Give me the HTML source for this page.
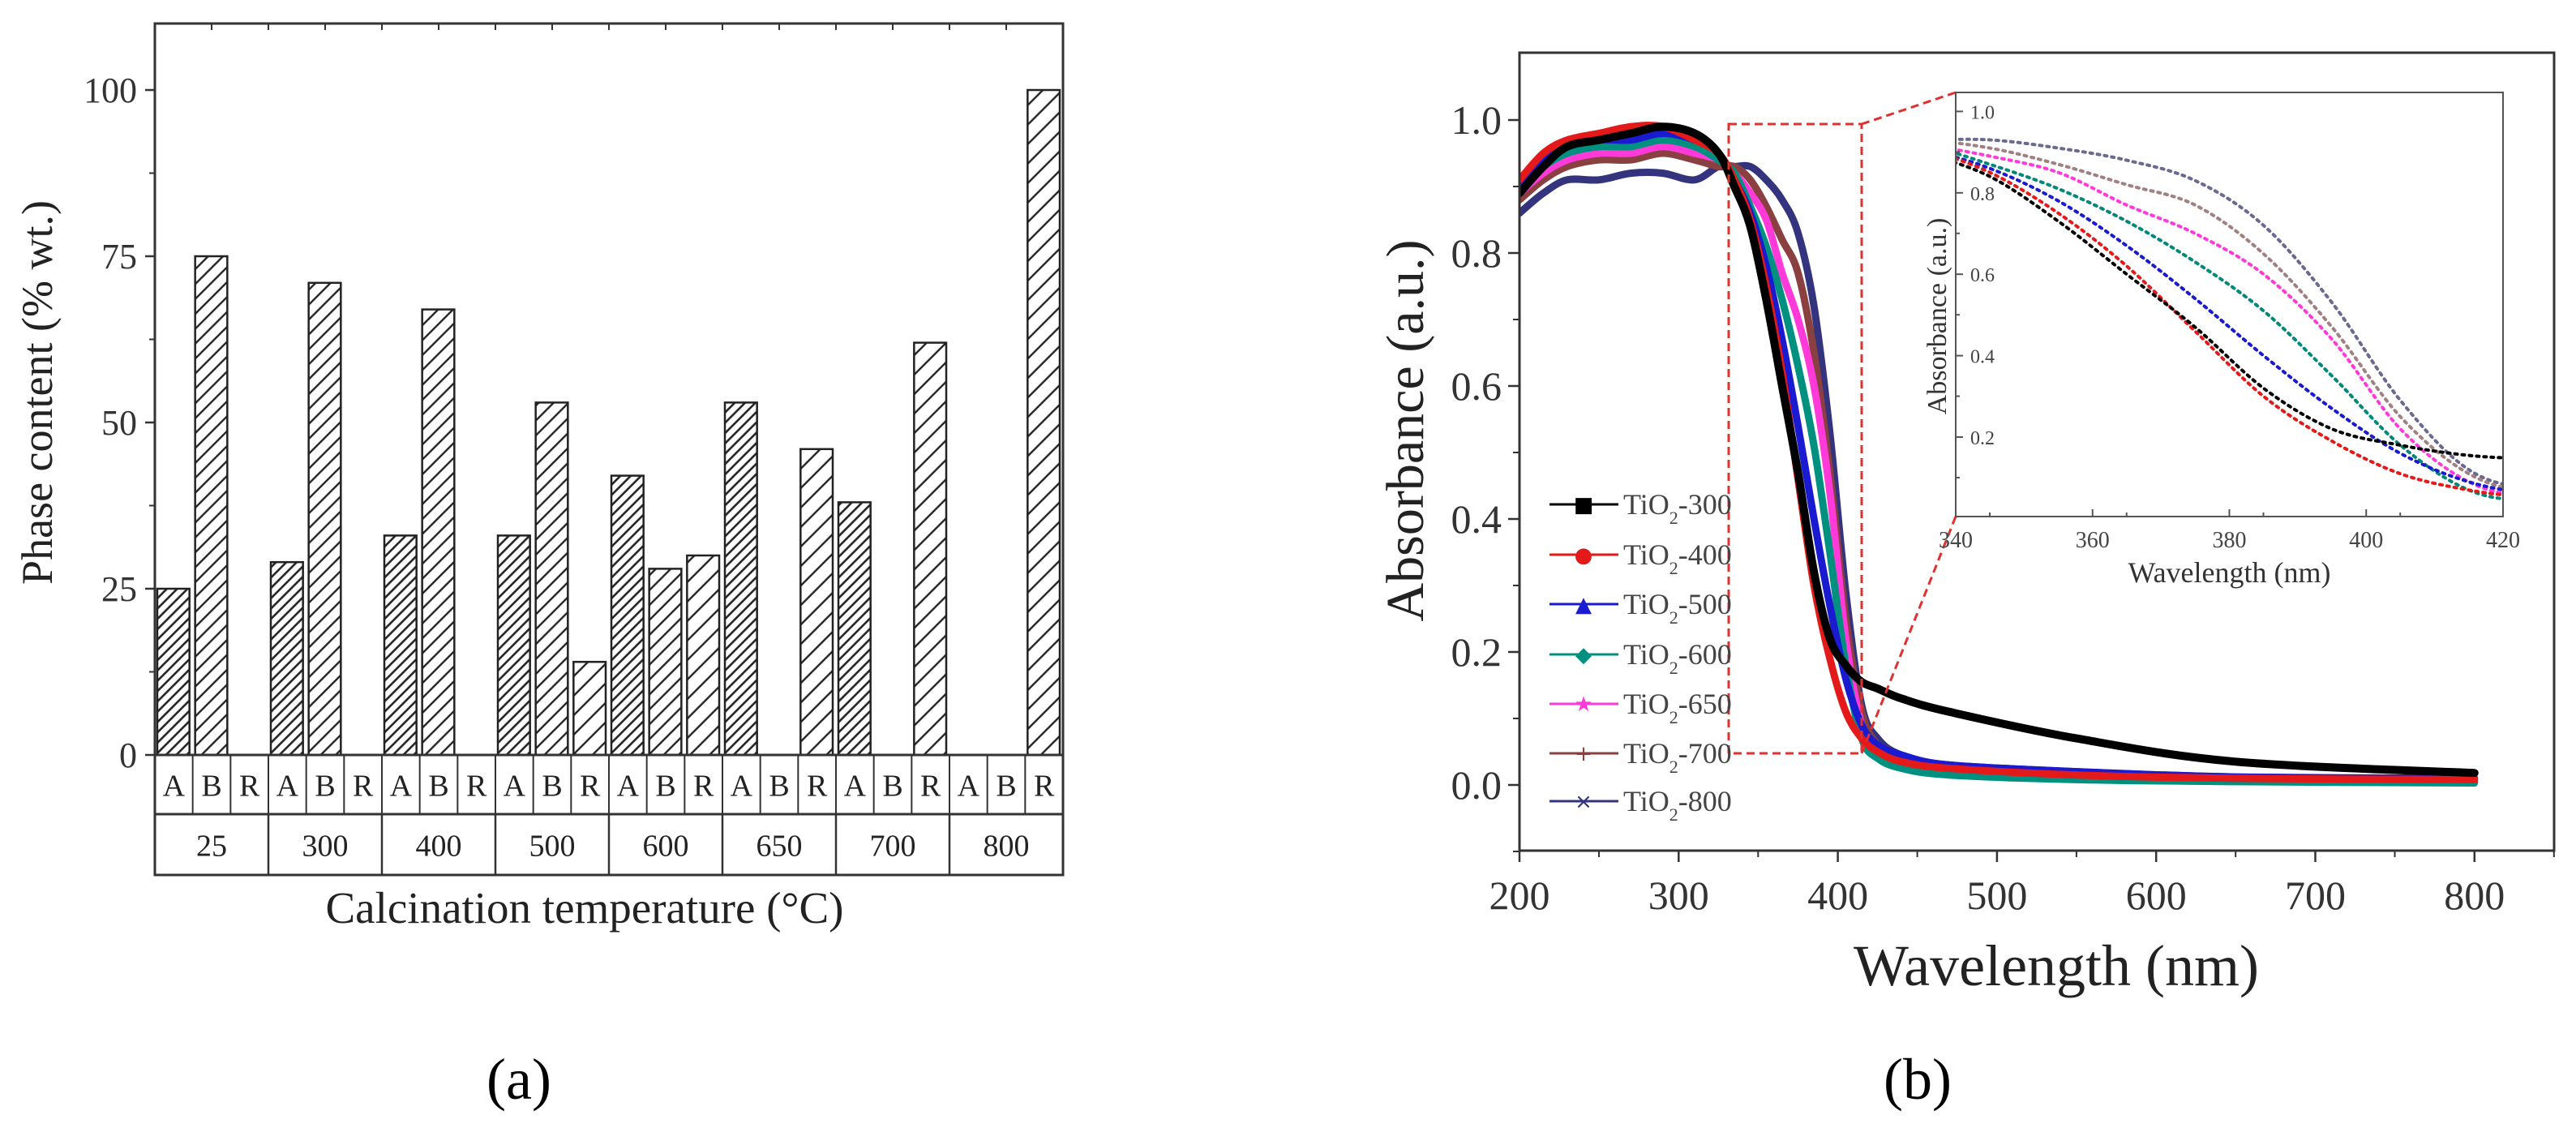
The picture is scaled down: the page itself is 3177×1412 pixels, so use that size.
<!DOCTYPE html>
<html><head><meta charset="utf-8"><style>
html,body{margin:0;padding:0;background:#fff;}
svg{display:block;font-family:"Liberation Serif",serif;}
</style></head><body>
<svg id="fig" width="3177" height="1412" viewBox="0 0 3177 1412" xmlns="http://www.w3.org/2000/svg">
<defs>
<pattern id="hA" width="9" height="9" patternUnits="userSpaceOnUse" patternTransform="rotate(45)"><line x1="2" y1="0" x2="2" y2="9" stroke="#222" stroke-width="2.6"/></pattern>
<pattern id="hB" width="13" height="13" patternUnits="userSpaceOnUse" patternTransform="rotate(45)"><line x1="2" y1="0" x2="2" y2="13" stroke="#222" stroke-width="2.4"/></pattern>
<pattern id="hR" width="17" height="17" patternUnits="userSpaceOnUse" patternTransform="rotate(45)"><line x1="2" y1="0" x2="2" y2="17" stroke="#222" stroke-width="2.4"/></pattern>
<clipPath id="mainClip"><rect x="1874" y="65" width="1276" height="984"/></clipPath>
<clipPath id="insClip"><rect x="2412" y="114" width="675" height="523"/></clipPath>
</defs>
<g id="panelA"></g>
<g id="panelB"></g>
<text x="640" y="1355" font-size="72" text-anchor="middle">(a)</text>
<text x="2365" y="1355" font-size="72" text-anchor="middle">(b)</text>
</svg>
<script>
// ---------- Panel (a) data ----------
const temps = ["25","300","400","500","600","650","700","800"];
const phases = ["A","B","R"];
const anatase = [25,29,33,33,42,53,38,0];
const brookite = [75,71,67,53,28,0,0,0];
const rutile = [0,0,0,14,30,46,62,100];
const yTicksA = [0,25,50,75,100];

// ---------- Panel (b) data ----------
const wl = [200,215,230,250,270,290,310,325,335,345,355,365,375,385,395,405,415,425,440,470,550,650,800];
const s300 = [0.89,0.93,0.96,0.97,0.98,0.99,0.98,0.95,0.90,0.84,0.73,0.60,0.47,0.32,0.22,0.18,0.155,0.145,0.13,0.11,0.07,0.035,0.018];
const s400 = [0.91,0.95,0.97,0.98,0.99,0.99,0.97,0.95,0.91,0.85,0.75,0.62,0.46,0.30,0.19,0.11,0.07,0.05,0.035,0.025,0.015,0.01,0.008];
const s500 = [0.90,0.94,0.96,0.97,0.97,0.98,0.97,0.95,0.91,0.86,0.78,0.67,0.54,0.40,0.27,0.16,0.09,0.06,0.045,0.03,0.02,0.012,0.01];
const s600 = [0.90,0.93,0.95,0.96,0.96,0.97,0.96,0.94,0.92,0.87,0.81,0.73,0.63,0.51,0.35,0.18,0.07,0.04,0.025,0.015,0.008,0.005,0.003];
const s650 = [0.89,0.92,0.94,0.95,0.95,0.96,0.95,0.94,0.92,0.89,0.85,0.77,0.70,0.60,0.44,0.22,0.09,0.05,0.03,0.02,0.012,0.008,0.005];
const s700 = [0.88,0.91,0.93,0.94,0.94,0.95,0.94,0.93,0.93,0.91,0.87,0.82,0.77,0.65,0.47,0.25,0.11,0.06,0.035,0.02,0.012,0.008,0.005];
const s800 = [0.86,0.89,0.91,0.91,0.92,0.92,0.91,0.93,0.93,0.93,0.91,0.88,0.83,0.72,0.53,0.29,0.12,0.07,0.045,0.03,0.02,0.012,0.008];
const seriesNames = ["TiO2-300","TiO2-400","TiO2-500","TiO2-600","TiO2-650","TiO2-700","TiO2-800"];
const xTicksB = [200,300,400,500,600,700,800];
const yTicksB = [0.0,0.2,0.4,0.6,0.8,1.0];
const xTicksIns = [340,360,380,400,420];
const yTicksIns = [0.2,0.4,0.6,0.8,1.0];

const NS = "http://www.w3.org/2000/svg";
function mk(parent, tag, attrs, txt){
  const e = document.createElementNS(NS, tag);
  for (const k in attrs) e.setAttribute(k, attrs[k]);
  if (txt !== undefined) e.textContent = txt;
  parent.appendChild(e);
  return e;
}

// ===== Panel A =====
const A = document.getElementById('panelA');
const aL=191, aR=1311, aT=29, aY0=931, aY100=111, aRow=1004, aB=1079;
const ya = v => aY0 + (aY100-aY0)*v/100;
const gW = (aR-aL)/temps.length, sW = gW/3;
const vals = [anatase, brookite, rutile];
const pats = ["url(#hA)","url(#hB)","url(#hR)"];
// bars
for (let g=0; g<temps.length; g++){
  for (let p=0;p<3;p++){
    const v = vals[p][g];
    if (v<=0) continue;
    const x = aL + g*gW + p*sW + 3;
    const r = mk(A,'rect',{x:x,y:ya(v),width:sW-7,height:aY0-ya(v),fill:"#fff",stroke:"none"});
    
    
    const r2 = mk(A,'rect',{x:x,y:ya(v),width:sW-7,height:aY0-ya(v),fill:pats[p],stroke:"#222","stroke-width":2.5});
    
    
  }
}
// frame
const fr = mk(A,'rect',{x:aL,y:aT,width:aR-aL,height:aB-aT,fill:"none",stroke:"#333","stroke-width":3});


mk(A,'line',{x1:aL,x2:aR,y1:aY0,y2:aY0,stroke:"#333","stroke-width":3});
mk(A,'line',{x1:aL,x2:aR,y1:aRow,y2:aRow,stroke:"#333","stroke-width":3});
// top minor ticks
for (let i=0;i<=temps.length*2;i++){
  const x = aL + i*gW/2;
  mk(A,'line',{x1:x,x2:x,y1:aT,y2:aT+8,stroke:"#333","stroke-width":2});
}
// y ticks
for (let i=0;i<yTicksA.length;i++){
  const y = ya(yTicksA[i]);
  mk(A,'line',{x1:aL-12,x2:aL,y1:y,y2:y,stroke:"#333","stroke-width":2.5});
  const t = mk(A,'text',{x:aL-22,y:y+15,"font-size":44,"text-anchor":"end",fill:"#333"}, String(yTicksA[i]));
  
  
  if (i<yTicksA.length-1){
    const ym = ya(yTicksA[i]+12.5);
    mk(A,'line',{x1:aL-7,x2:aL,y1:ym,y2:ym,stroke:"#333","stroke-width":2});
  }
}
// table
for (let g=0; g<temps.length; g++){
  for (let p=0;p<3;p++){
    const x = aL + g*gW + p*sW;
    if (g+p>0) mk(A,'line',{x1:x,x2:x,y1:aY0,y2:aRow,stroke:"#333","stroke-width":2});
    const t = mk(A,'text',{x:x+sW/2,y:(aY0+aRow)/2+14,"font-size":38,"text-anchor":"middle",fill:"#222"}, phases[p]);
    
    
  }
  const gx = aL + g*gW;
  if (g>0) mk(A,'line',{x1:gx,x2:gx,y1:aRow,y2:aB,stroke:"#333","stroke-width":2.5});
  const t = mk(A,'text',{x:gx+gW/2,y:(aRow+aB)/2+14,"font-size":38,"text-anchor":"middle",fill:"#222"}, temps[g]);
  
  
}
const yta = mk(A,'text',{x:0,y:0,"font-size":54,"text-anchor":"middle",fill:"#222",transform:"translate(64,484) rotate(-90)"}, "Phase content (% wt.)");


const xta = mk(A,'text',{x:(aL+aR)/2-30,y:1138,"font-size":55,"text-anchor":"middle",fill:"#222"}, "Calcination temperature (°C)");



// ===== Panel B =====
const B = document.getElementById('panelB');
const bL=1874, bR=3150, bT=65, bB=1049;
const xb = v => 1874 + (v-200)*1.963;
const yb = v => 968 - v*820;
const iL=2412, iR=3087, iT=114, iB=637;
const xi = v => iL + (v-340)*(iR-iL)/80;
const yi = v => 539 - (v-0.2)*502;
const colors = ["#000000","#e41a1a","#1a1ad0","#009080","#ff3ad8","#8a4040","#34347e"];
const insColors = ["#000000","#e41a1a","#1a1ad0","#008878","#ff3ad8","#a08080","#6a6a90"];
const all = [s300,s400,s500,s600,s650,s700,s800];

function smoothPath(xs, ys){
  let d = "M"+xs[0].toFixed(1)+","+ys[0].toFixed(1);
  for (let i=0;i<xs.length-1;i++){
    const x0=xs[Math.max(0,i-1)], y0=ys[Math.max(0,i-1)];
    const x1=xs[i], y1=ys[i], x2=xs[i+1], y2=ys[i+1];
    const x3=xs[Math.min(xs.length-1,i+2)], y3=ys[Math.min(xs.length-1,i+2)];
    const c1x=x1+(x2-x0)/6, c1y=y1+(y2-y0)/6, c2x=x2-(x3-x1)/6, c2y=y2-(y3-y1)/6;
    d += " C"+c1x.toFixed(1)+","+c1y.toFixed(1)+" "+c2x.toFixed(1)+","+c2y.toFixed(1)+" "+x2.toFixed(1)+","+y2.toFixed(1);
  }
  return d;
}
const mainG = mk(B,'g',{"clip-path":"url(#mainClip)"});
for (let s=all.length-1; s>=0; s--){
  const p = mk(mainG,'path',{d:smoothPath(wl.map(xb), all[s].map(yb)),fill:"none",stroke:colors[s],"stroke-width":s===0?10:9,"stroke-linejoin":"round","stroke-linecap":"round"});
  
  
}
const frB = mk(B,'rect',{x:bL,y:bT,width:bR-bL,height:bB-bT,fill:"none",stroke:"#333","stroke-width":3});


for (let i=0;i<xTicksB.length;i++){
  const x = xb(xTicksB[i]);
  mk(B,'line',{x1:x,x2:x,y1:bB,y2:bB+14,stroke:"#333","stroke-width":2.5});
  mk(B,'line',{x1:x+98,x2:x+98,y1:bB,y2:bB+8,stroke:"#333","stroke-width":2});
  const t = mk(B,'text',{x:x,y:bB+72,"font-size":50,"text-anchor":"middle",fill:"#333"}, String(xTicksB[i]));
  
  
}
for (let i=0;i<yTicksB.length;i++){
  const y = yb(yTicksB[i]);
  mk(B,'line',{x1:bL-14,x2:bL,y1:y,y2:y,stroke:"#333","stroke-width":2.5});
  mk(B,'line',{x1:bL-8,x2:bL,y1:y+82,y2:y+82,stroke:"#333","stroke-width":2});
  const t = mk(B,'text',{x:bL-22,y:y+17,"font-size":50,"text-anchor":"end",fill:"#333"}, yTicksB[i].toFixed(1));
  
  
}
const ytb = mk(B,'text',{x:0,y:0,"font-size":66,"text-anchor":"middle",fill:"#222",transform:"translate(1755,531) rotate(-90)"}, "Absorbance (a.u.)");


const xtb = mk(B,'text',{x:2536,y:1215,"font-size":72,"text-anchor":"middle",fill:"#222"}, "Wavelength (nm)");



// zoom box + connectors
const zb = mk(B,'rect',{x:2132,y:153,width:164,height:776,fill:"none",stroke:"#e03030","stroke-width":3,"stroke-dasharray":"10 6"});


mk(B,'line',{x1:2296,y1:153,x2:iL,y2:iT,stroke:"#e03030","stroke-width":3,"stroke-dasharray":"10 6"});
mk(B,'line',{x1:2296,y1:929,x2:iL,y2:iB,stroke:"#e03030","stroke-width":3,"stroke-dasharray":"10 6"});

// legend
const legY = [622,684,745,807,868,929,988];
const markers = ["■","●","▲","◆","★","+","×"];
for (let s=0;s<seriesNames.length;s++){
  const g = mk(B,'g',{});
  
  
  mk(g,'line',{x1:1911,x2:1996,y1:legY[s],y2:legY[s],stroke:colors[s],"stroke-width":3});
  mk(g,'text',{x:1953,y:legY[s]+9,"font-size":26,"text-anchor":"middle",fill:colors[s],"font-family":"DejaVu Sans"}, markers[s]);
  const t = mk(g,'text',{x:2002,y:legY[s]+12,"font-size":36,fill:"#444"});
  mk(t,'tspan',{}, "TiO");
  mk(t,'tspan',{"font-size":22,dy:12}, "2");
  mk(t,'tspan',{dy:-12}, "-"+seriesNames[s].split("-")[1]);
}

// inset
mk(B,'rect',{x:iL,y:iT,width:iR-iL,height:iB-iT,fill:"#fff",stroke:"none"});
const insG = mk(B,'g',{"clip-path":"url(#insClip)"});
for (let s=all.length-1; s>=0; s--){
  const p = mk(insG,'path',{d:smoothPath(wl.map(xi), all[s].map(yi)),fill:"none",stroke:insColors[s],"stroke-width":4,"stroke-dasharray":"3 6","stroke-linecap":"round"});
  
  
}
const frI = mk(B,'rect',{x:iL,y:iT,width:iR-iL,height:iB-iT,fill:"none",stroke:"#555","stroke-width":2});


for (let i=0;i<xTicksIns.length;i++){
  const x = xi(xTicksIns[i]);
  mk(B,'line',{x1:x,x2:x,y1:iB,y2:iB-9,stroke:"#555","stroke-width":2});
  if (i<xTicksIns.length-1) mk(B,'line',{x1:x+42,x2:x+42,y1:iB,y2:iB-5,stroke:"#555","stroke-width":2});
  const t = mk(B,'text',{x:x,y:iB+38,"font-size":28,"text-anchor":"middle",fill:"#444"}, String(xTicksIns[i]));
  
  
}
for (let i=0;i<yTicksIns.length;i++){
  const y = yi(yTicksIns[i]);
  mk(B,'line',{x1:iL,x2:iL+9,y1:y,y2:y,stroke:"#555","stroke-width":2});
  mk(B,'line',{x1:iL,x2:iL+5,y1:y+50,y2:y+50,stroke:"#555","stroke-width":2});
  const t = mk(B,'text',{x:iL+18,y:y+9,"font-size":24,"text-anchor":"start",fill:"#444"}, yTicksIns[i].toFixed(1));
  
  
}
const yti = mk(B,'text',{x:0,y:0,"font-size":34,"text-anchor":"middle",fill:"#333",transform:"translate(2400,390) rotate(-90)"}, "Absorbance (a.u.)");


const xti = mk(B,'text',{x:(iL+iR)/2,y:718,"font-size":36,"text-anchor":"middle",fill:"#333"}, "Wavelength (nm)");


</script>
</body></html>
